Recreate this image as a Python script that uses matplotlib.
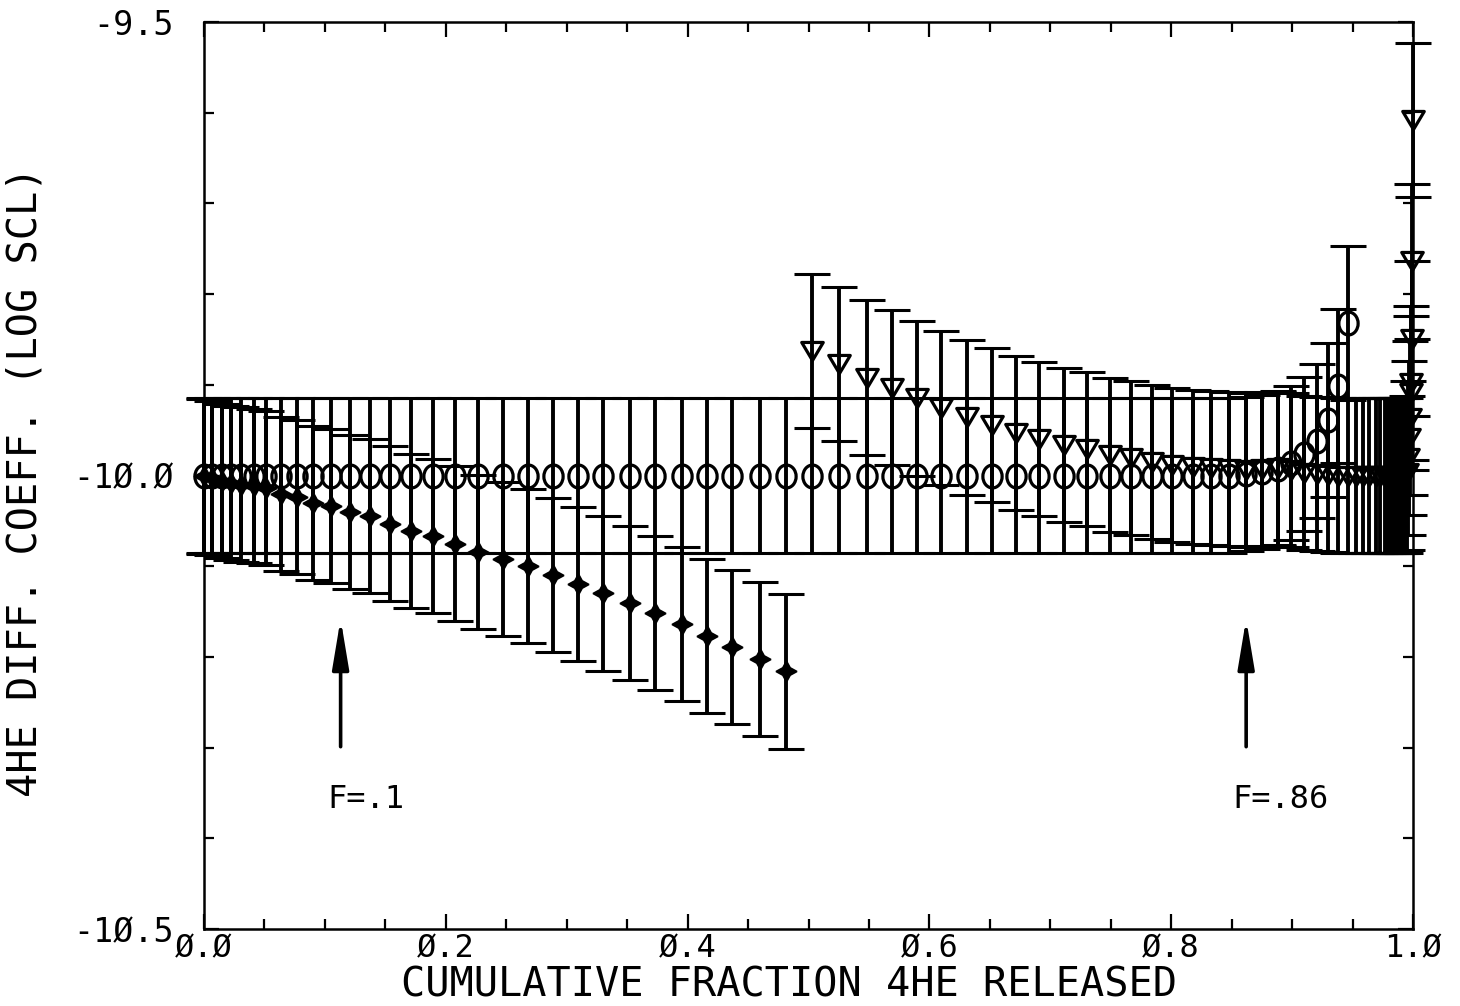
import matplotlib
matplotlib.use("Agg")
import matplotlib.pyplot as plt
from matplotlib.path import Path
from matplotlib.transforms import Affine2D
from matplotlib.ticker import MultipleLocator, FuncFormatter

# Cumulative fraction of 4He released at each heating step
frac = [0.000, 0.007, 0.015, 0.022, 0.031, 0.041, 0.051, 0.064, 0.077, 0.090,
        0.105, 0.121, 0.137, 0.154, 0.171, 0.189, 0.208, 0.227, 0.247, 0.268,
        0.289, 0.309, 0.330, 0.352, 0.373, 0.395, 0.416, 0.437, 0.460, 0.481,
        0.503, 0.525, 0.548, 0.569, 0.590, 0.610, 0.631, 0.652, 0.672, 0.691,
        0.711, 0.730, 0.749, 0.767, 0.784, 0.801, 0.818, 0.833, 0.848, 0.862,
        0.875, 0.888, 0.899, 0.910, 0.921, 0.930, 0.938, 0.946]

# Single-domain model (open circles)
logd_single = [-10.0, -10.0, -10.0, -10.0, -10.0, -10.0, -10.0, -10.0, -10.0, -10.0,
               -10.0, -10.0, -10.0, -10.0, -10.0, -10.0, -10.0, -10.0, -10.0, -10.0,
               -10.0, -10.0, -10.0, -10.0, -10.0, -10.0, -10.0, -10.0, -10.0, -10.0,
               -10.0, -10.0, -10.0, -10.0, -10.0, -10.0, -10.0, -10.0, -10.0, -10.0,
               -10.0, -10.0, -10.0, -10.0, -10.0, -10.0, -10.0, -10.0, -10.0, -9.998,
               -9.996, -9.993, -9.986, -9.976, -9.962, -9.939, -9.901, -9.832]

# First domain (filled stars), steps up to F ~ 0.48
frac_low = frac[:30]
logd_low = [-10.001, -10.003, -10.006, -10.008, -10.010, -10.012, -10.014, -10.020,
            -10.024, -10.030, -10.034, -10.040, -10.045, -10.053, -10.061, -10.067,
            -10.075, -10.084, -10.092, -10.100, -10.110, -10.120, -10.130, -10.141,
            -10.152, -10.164, -10.177, -10.189, -10.202, -10.216]

# Second domain (open triangles), steps from F ~ 0.5 to 1
frac_high = [0.503, 0.525, 0.548, 0.569, 0.590, 0.610, 0.631, 0.652, 0.672, 0.691,
             0.711, 0.730, 0.749, 0.767, 0.784, 0.801, 0.818, 0.833, 0.848, 0.862,
             0.875, 0.888, 0.899, 0.910, 0.921, 0.930, 0.938, 0.946, 0.953, 0.959,
             0.964, 0.969, 0.973, 0.977, 0.979, 0.982, 0.984, 0.986, 0.988, 0.989,
             0.991, 0.993, 0.995, 0.996, 0.997, 0.9975, 0.998, 0.9985, 0.999, 0.9995,
             1.000]
logd_high = [-9.863, -9.877, -9.892, -9.903, -9.915, -9.926, -9.936, -9.944, -9.953,
             -9.960, -9.966, -9.971, -9.977, -9.981, -9.985, -9.988, -9.991, -9.992,
             -9.993, -9.994, -9.993, -9.992, -9.994, -9.997, -9.998, -9.999, -10.000,
             -10.000, -10.000, -10.000, -10.000, -10.000, -10.000, -10.000, -10.000,
             -10.000, -10.000, -10.000, -10.000, -10.000, -10.000, -10.000, -9.997,
             -9.981, -9.959, -9.937, -9.909, -9.898, -9.849, -9.764, -9.608]

LOG_ERR = 0.085

# Annotated fractions: (x position, label)
markers_f = [(0.113, "F=.1"), (0.862, "F=.86")]
arrow_tail, arrow_tip, label_y = -10.299, -10.158, -10.357

plt.rcParams['font.family'] = ['DejaVu Sans Mono', 'DejaVu Sans']

fig = plt.figure(figsize=(14.6, 10.06), dpi=100)
ax = fig.add_axes([204 / 1460, 1 - 929 / 1006, 1209 / 1460, 907 / 1006])

# marker shapes: slightly tall ellipse, downward triangle, four-point star
ellipse = Path.unit_circle().transformed(Affine2D().scale(0.42, 0.5))
tri_down = Path([(-0.5, 0.42), (0.5, 0.42), (0.0, -0.42), (-0.5, 0.42)],
                [Path.MOVETO, Path.LINETO, Path.LINETO, Path.CLOSEPOLY])


def bars(x, y):
    cont = ax.errorbar(x, y, yerr=LOG_ERR, fmt='none', ecolor='black',
                       elinewidth=2.8, capsize=13, capthick=2.2, zorder=2)
    for art in cont.get_children():
        art.set_clip_on(False)


bars(frac, logd_single)
bars(frac_low, logd_low)
bars(frac_high, logd_high)

ax.plot(frac, logd_single, linestyle='none', marker=ellipse, ms=16.5,
        mfc='none', mec='black', mew=2.3, zorder=3, clip_on=False)
ax.plot(frac_low, logd_low, linestyle='none', marker=(4, 1, 0), ms=15,
        mfc='black', mec='black', mew=1.2, zorder=3, clip_on=False)
ax.plot(frac_high, logd_high, linestyle='none', marker=tri_down, ms=15.5,
        mfc='none', mec='black', mew=2.3, zorder=3, clip_on=False)

for fx, txt in markers_f:
    ax.annotate('', xy=(fx, arrow_tip), xytext=(fx, arrow_tail),
                arrowprops=dict(arrowstyle='-|>,head_length=1.5,head_width=0.25',
                                lw=2.6, color='black', mutation_scale=20,
                                shrinkA=0, shrinkB=0))
    ax.text(fx - 0.011, label_y, txt, fontsize=23, ha='left', va='center')

ax.set_xlim(0, 1)
ax.set_ylim(-10.5, -9.5)
ax.xaxis.set_major_locator(MultipleLocator(0.2))
ax.xaxis.set_minor_locator(MultipleLocator(0.05))
ax.yaxis.set_major_locator(MultipleLocator(0.5))
ax.yaxis.set_minor_locator(MultipleLocator(0.1))

slashed = FuncFormatter(lambda v, pos: f"{v:.1f}".replace('0', 'Ø'))
ax.xaxis.set_major_formatter(slashed)
ax.yaxis.set_major_formatter(slashed)

ax.tick_params(which='both', direction='in', top=True, right=True, width=1.6,
               labelsize=24)
ax.tick_params(axis='x', labelsize=23, pad=3)
ax.tick_params(axis='y', pad=22)
ax.tick_params(which='major', length=11)
ax.tick_params(which='minor', length=7)
for sp in ax.spines.values():
    sp.set_linewidth(1.8)

ax.set_xlabel('CUMULATIVE FRACTION 4HE RELEASED', fontsize=29)
ax.set_ylabel('4HE DIFF. COEFF. (LOG SCL)', fontsize=29)
ax.xaxis.set_label_coords(0.484, -0.0397)
ax.yaxis.set_label_coords(-0.131, 0.493)

fig.savefig('out.png', dpi=100)
